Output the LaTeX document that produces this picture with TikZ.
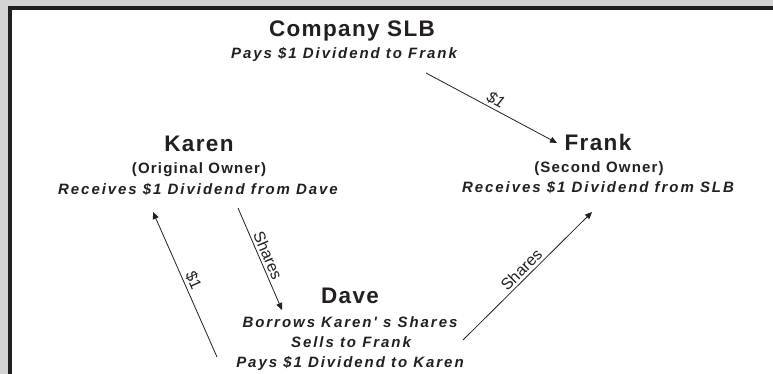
\documentclass[tikz,border=0pt]{standalone}
\usepackage{fontspec}
\setmainfont{Liberation Sans}
\newfontfamily\ttlfont[LetterSpace=6]{Liberation Sans}
\newfontfamily\subfont[LetterSpace=8]{Liberation Sans}
\newfontfamily\itfont[LetterSpace=13]{Liberation Sans}
\usetikzlibrary{arrows.meta}
\definecolor{ink}{HTML}{231F20}
\definecolor{bggray}{HTML}{D3D3D4}
\begin{document}
\begin{tikzpicture}[x=1pt,y=-1pt,
  ttl/.style={anchor=base, inner sep=0pt, text=ink, font=\ttlfont\bfseries\fontsize{22.5}{26}\selectfont},
  sub/.style={anchor=base, inner sep=0pt, text=ink, font=\subfont\bfseries\fontsize{15}{18}\selectfont},
  itl/.style={anchor=base, inner sep=0pt, text=ink, font=\itfont\bfseries\itshape\fontsize{15}{18}\selectfont},
  lab/.style={inner sep=2.5pt, text=ink, font=\fontsize{16}{18}\selectfont, sloped, above},
  labit/.style={lab, font=\itshape\fontsize{16}{18}\selectfont},
  conn/.style={draw=ink, line width=0.8pt, -{Triangle[length=7pt,width=6pt]}},
]
\useasboundingbox (0,0) rectangle (773,374);
\fill[bggray] (0,0) rectangle (773,374);
\fill[white] (10,8) rectangle (773,374);
\draw[ink, line width=4pt] (10,374) -- (10,8) -- (773,8);

% nodes
\node[ttl] (slb) at (352,37) {Company SLB};
\node[itl] (slbnote) at (344,59) {Pays \$1 Dividend to Frank};
\node[ttl] (karen) at (199,152) {Karen};
\node[sub] (karenrole) at (199,174) {(Original Owner)};
\node[itl] (karennote) at (198,194) {Receives \$1 Dividend from Dave};
\node[ttl] (frank) at (598,151) {Frank};
\node[sub] (frankrole) at (599,173) {(Second Owner)};
\node[itl] (franknote) at (598,193) {Receives \$1 Dividend from SLB};
\node[ttl] (dave) at (350,303) {Dave};
\node[itl] (davenote1) at (350,327) {Borrows Karen' s Shares};
\node[itl] (davenote2) at (351,347) {Sells to Frank};
\node[itl] (davenote3) at (350,367) {Pays \$1 Dividend to Karen};

% connector ends
\coordinate (slb-out) at (426,73);
\coordinate (frank-in1) at (557,143);
\coordinate (karen-out) at (238,208);
\coordinate (dave-in) at (282,310);
\coordinate (dave-out1) at (217,357);
\coordinate (karen-in) at (153,212);
\coordinate (dave-out2) at (463,340);
\coordinate (frank-in2) at (592,212);

\draw[conn] (slb-out) -- node[labit] {\$1} (frank-in1);
\draw[conn] (karen-out) -- node[lab] {Shares} (dave-in);
\draw[conn] (dave-out1) -- node[lab] {\$1} (karen-in);
\draw[conn] (dave-out2) -- node[lab] {Shares} (frank-in2);
\end{tikzpicture}
\end{document}
